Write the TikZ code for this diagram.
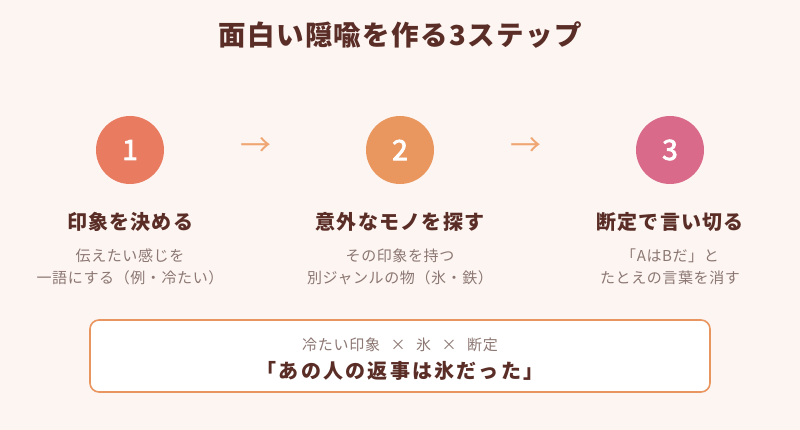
\documentclass[tikz,border=0pt]{standalone}
\usepackage{fontspec}
\setmainfont{Noto Sans CJK JP}
\newfontfamily\numfont[FakeBold=3]{Noto Sans CJK JP}
\usetikzlibrary{positioning}
\definecolor{bgpink}{HTML}{FDF5F2}
\definecolor{darkbrown}{HTML}{5A2E26}
\definecolor{softgray}{HTML}{8C7772}
\definecolor{coral}{HTML}{E87B60}
\definecolor{apricot}{HTML}{E9975F}
\definecolor{rose}{HTML}{D96A89}
\definecolor{arrowtan}{HTML}{EFA672}
\definecolor{boxline}{HTML}{E8955F}
\newcommand{\spaced}[1]{\addfontfeature{LetterSpace=#1}}
\begin{document}
\begin{tikzpicture}[
        x=1pt, y=-1pt,
        title/.style={font=\bfseries\fontsize{27.5}{32}\selectfont\spaced{5}, text=darkbrown},
        stepnum/.style={circle, minimum size=68pt, inner sep=0pt, text=white, font=\numfont\fontsize{28}{32}\selectfont},
        heading/.style={font=\bfseries\fontsize{20}{24}\selectfont\spaced{6}, text=darkbrown},
        detail/.style={align=center, font=\fontsize{15}{22}\selectfont\spaced{4}, text=softgray},
        flow/.style={font=\fontsize{31}{32}\selectfont, text=arrowtan},
        summary/.style={draw=boxline, line width=1.6pt, fill=white, rounded corners=9pt,
                        minimum width=620pt, minimum height=72pt}
    ]
        % Nền
        \fill[bgpink] (0,0) rectangle (800,430);

        % Tiêu đề
        \node[title] (title) at (400,35) {面白い隠喩を作る3ステップ};

        % Ba bước
        \node[stepnum, fill=coral] (s1) at (130,150) {1};
        \node[stepnum, fill=apricot] (s2) at (400,150) {2};
        \node[stepnum, fill=rose] (s3) at (670,150) {3};

        \node[flow] (a1) at (256,147) {→};
        \node[flow] (a2) at (526,147) {→};

        \node[heading] (h1) at (130,222) {印象を決める};
        \node[heading] (h2) at (400,222) {意外なモノを探す};
        \node[heading] (h3) at (670,222) {断定で言い切る};

        \node[detail] (d1) at (130,267) {伝えたい感じを\\一語にする（例・冷たい）};
        \node[detail] (d2) at (400,267) {その印象を持つ\\別ジャンルの物（氷・鉄）};
        \node[detail] (d3) at (670,267) {「AはBだ」と\\たとえの言葉を消す};

        % Ví dụ
        \node[summary] (box) at (400,356) {};
        \node[font=\fontsize{15}{18}\selectfont\spaced{5}, text=softgray] (recipe) at (400,345)
            {冷たい印象\hspace{0.7em}×\hspace{0.7em}氷\hspace{0.7em}×\hspace{0.7em}断定};
        \node[font=\bfseries\fontsize{20}{24}\selectfont\spaced{11}, text=darkbrown, below=2pt of recipe] (result)
            {「あの人の返事は氷だった」};
    \end{tikzpicture}
\end{document}
